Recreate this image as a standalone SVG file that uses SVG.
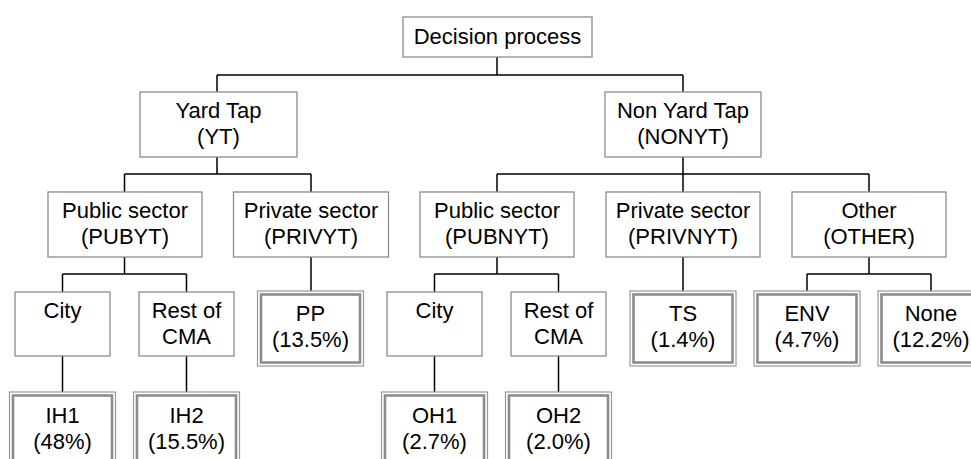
<svg xmlns="http://www.w3.org/2000/svg" width="971" height="459" viewBox="0 0 971 459">
<style>
.b{fill:#fff;stroke:#8c8c8c;stroke-width:1.3}
.o{fill:#fff;stroke:#999;stroke-width:1.2}
.i{fill:none;stroke:#8c8c8c;stroke-width:2.6}
.t{font-family:"Liberation Sans",Arial,sans-serif;font-size:22px;fill:#000;text-anchor:middle}
.c{stroke:#000;stroke-width:1.5;fill:none}
</style>
<rect width="971" height="459" fill="#fff"/>
<g id="connectors" class="c">
<path d="M497,57V75M217,75H683M217,75V92M683,75V92"/>
<path d="M217,157V174M124.5,174H311M124.5,174V192M311,174V192"/>
<path d="M683,157V192M497,174H869M497,174V192M869,174V192"/>
<path d="M124.5,257V274M62.5,274H186.5M62.5,274V292M186.5,274V292"/>
<path d="M311,257V291"/>
<path d="M62.5,356V392M186.5,356V392"/>
<path d="M497,257V274M434.5,274H558.5M434.5,274V292M558.5,274V292"/>
<path d="M683,257V291"/>
<path d="M869,257V274M807,274H931M807,274V291M931,274V291"/>
<path d="M434.5,356V392M558.5,356V392"/>
</g>
<g id="decision"><rect class="b" x="403" y="17" width="189" height="40"/><text class="t" x="497.5" y="44">Decision process</text></g>
<g id="yt"><rect class="b" x="140" y="92" width="157" height="65"/><text class="t" x="218.5" y="118">Yard Tap</text><text class="t" x="218.5" y="144">(YT)</text></g>
<g id="nonyt"><rect class="b" x="605" y="92" width="156" height="65"/><text class="t" x="683" y="118">Non Yard Tap</text><text class="t" x="683" y="144">(NONYT)</text></g>
<g id="pubyt"><rect class="b" x="48" y="192" width="154" height="65"/><text class="t" x="125" y="218">Public sector</text><text class="t" x="125" y="244">(PUBYT)</text></g>
<g id="privyt"><rect class="b" x="233.5" y="192" width="155" height="65"/><text class="t" x="311" y="218">Private sector</text><text class="t" x="311" y="244">(PRIVYT)</text></g>
<g id="pubnyt"><rect class="b" x="420" y="192" width="154" height="65"/><text class="t" x="497" y="218">Public sector</text><text class="t" x="497" y="244">(PUBNYT)</text></g>
<g id="privnyt"><rect class="b" x="606" y="192" width="154" height="65"/><text class="t" x="683" y="218">Private sector</text><text class="t" x="683" y="244">(PRIVNYT)</text></g>
<g id="other"><rect class="b" x="792" y="192" width="154" height="65"/><text class="t" x="869" y="218">Other</text><text class="t" x="869" y="244">(OTHER)</text></g>
<g id="city1"><rect class="b" x="15" y="292" width="95" height="64"/><text class="t" x="62.5" y="318">City</text></g>
<g id="rest1"><rect class="b" x="139" y="292" width="95" height="64"/><text class="t" x="186.5" y="318">Rest of</text><text class="t" x="186.5" y="344">CMA</text></g>
<g id="city2"><rect class="b" x="387" y="292" width="95" height="64"/><text class="t" x="434.5" y="318">City</text></g>
<g id="rest2"><rect class="b" x="511" y="292" width="95" height="64"/><text class="t" x="558.5" y="318">Rest of</text><text class="t" x="558.5" y="344">CMA</text></g>
<g id="pp"><rect class="o" x="257.5" y="291" width="106" height="75"/><rect class="i" x="261" y="294.5" width="99" height="68"/><text class="t" x="310.5" y="321">PP</text><text class="t" x="310.5" y="347">(13.5%)</text></g>
<g id="ts"><rect class="o" x="630" y="291" width="106" height="75"/><rect class="i" x="633.5" y="294.5" width="99" height="68"/><text class="t" x="683" y="321">TS</text><text class="t" x="683" y="347">(1.4%)</text></g>
<g id="env"><rect class="o" x="754" y="291" width="106" height="75"/><rect class="i" x="757.5" y="294.5" width="99" height="68"/><text class="t" x="807" y="321">ENV</text><text class="t" x="807" y="347">(4.7%)</text></g>
<g id="none"><rect class="o" x="878" y="291" width="106" height="75"/><rect class="i" x="881.5" y="294.5" width="99" height="68"/><text class="t" x="931" y="321">None</text><text class="t" x="931" y="347">(12.2%)</text></g>
<g id="ih1"><rect class="o" x="9.5" y="392" width="106" height="80"/><rect class="i" x="13" y="395.5" width="99" height="73"/><text class="t" x="62.5" y="423">IH1</text><text class="t" x="62.5" y="449">(48%)</text></g>
<g id="ih2"><rect class="o" x="133.5" y="392" width="106" height="80"/><rect class="i" x="137" y="395.5" width="99" height="73"/><text class="t" x="186.5" y="423">IH2</text><text class="t" x="186.5" y="449">(15.5%)</text></g>
<g id="oh1"><rect class="o" x="381.5" y="392" width="106" height="80"/><rect class="i" x="385" y="395.5" width="99" height="73"/><text class="t" x="434.5" y="423">OH1</text><text class="t" x="434.5" y="449">(2.7%)</text></g>
<g id="oh2"><rect class="o" x="505.5" y="392" width="106" height="80"/><rect class="i" x="509" y="395.5" width="99" height="73"/><text class="t" x="558.5" y="423">OH2</text><text class="t" x="558.5" y="449">(2.0%)</text></g>
</svg>
